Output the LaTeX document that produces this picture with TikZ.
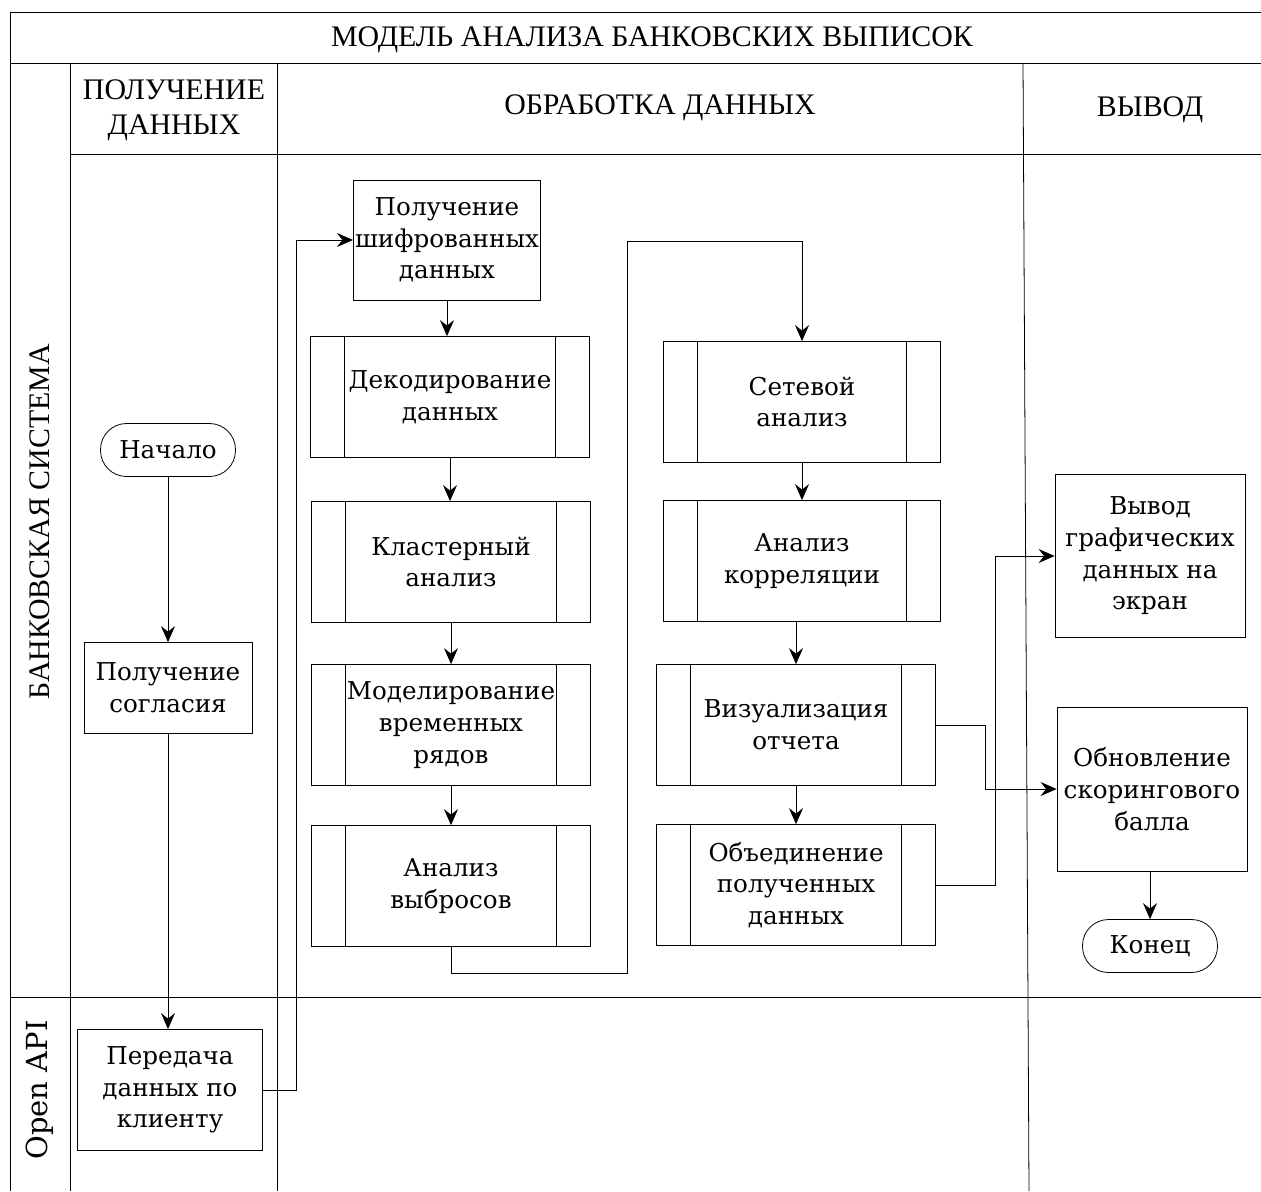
\documentclass[tikz,border=0pt]{standalone}
\usepackage{fontspec}
\setmainfont{DejaVu Serif}
\newfontfamily\headfont{Liberation Serif}
\usetikzlibrary{arrows.meta, positioning, calc}
\tikzset{
  lane/.style={align=center, inner sep=0pt, font=\headfont\fontsize{17}{20}\selectfont},
  pbox/.style={draw, align=center, inner sep=1pt, minimum width=3.72cm,
    minimum height=2.4cm, font=\fontsize{14}{18}\selectfont},
  sbox/.style={pbox, minimum width=5.58cm, minimum height=2.42cm,
    path picture={
      \draw ([xshift=0.68cm]path picture bounding box.north west) -- ([xshift=0.68cm]path picture bounding box.south west);
      \draw ([xshift=-0.68cm]path picture bounding box.north east) -- ([xshift=-0.68cm]path picture bounding box.south east);
    }},
  tbox/.style={draw, rounded corners=0.52cm, minimum width=2.7cm,
    minimum height=1.06cm, font=\fontsize{14}{18}\selectfont},
  flow/.style={-{Stealth[length=3.2mm, width=2.8mm, inset=1.1mm]}},
}
\begin{document}
\begin{tikzpicture}[x=0.02cm, y=-0.02cm, line width=0.45pt]
  \useasboundingbox (0,0) rectangle (1261,1191);
  % lanes
  \draw (10,1191) -- (10,12) -- (1261,12);
  \draw (10,63) -- (1261,63);
  \draw (70,63) -- (70,1191);
  \draw (10,997) -- (1261,997);
  \draw (70,154) -- (1261,154);
  \draw (277,63) -- (277,1191);
  \draw (1023,63) -- (1029,1191);
  \node[lane] (title) at (652,40) {МОДЕЛЬ АНАЛИЗА БАНКОВСКИХ ВЫПИСОК};
  \node[lane] (hget) at (174,110) {ПОЛУЧЕНИЕ\\ДАННЫХ};
  \node[lane] (hproc) at (660,108) {ОБРАБОТКА ДАННЫХ};
  \node[lane] (hout) at (1150,110) {ВЫВОД};
  \node[lane, rotate=90] (bank) at (40,522) {БАНКОВСКАЯ СИСТЕМА};
  \node[lane, rotate=90, font=\fontsize{16.5}{20}\selectfont] (api) at (40,1090) {Open API};

  % nodes
  \node[tbox] (start) at (168,450) {Начало};
  \node[pbox, minimum width=3.36cm, minimum height=1.82cm] (consent) at (168,688) {Получение\\согласия};
  \node[pbox, minimum width=3.7cm, minimum height=2.42cm] (transfer) at (170,1090) {Передача\\данных по\\клиенту};
  \node[pbox] (enc) at (447,240) {Получение\\шифрованных\\данных};
  \node[sbox] (decode) at (450,397) {Декодирование\\данных};
  \node[sbox] (cluster) at (451,562) {Кластерный\\анализ};
  \node[sbox] (model) at (451,725) {Моделирование\\временных\\рядов};
  \node[sbox] (outlier) at (451,886) {Анализ\\выбросов};
  \node[sbox, minimum width=5.54cm] (network) at (802,402) {Сетевой\\анализ};
  \node[sbox, minimum width=5.54cm] (corr) at (802,561) {Анализ\\корреляции};
  \node[sbox] (visual) at (796,725) {Визуализация\\отчета};
  \node[sbox] (merge) at (796,885) {Объединение\\полученных\\данных};
  \node[pbox, minimum width=3.8cm, minimum height=3.26cm] (screen) at (1150,556) {Вывод\\графических\\данных на\\экран};
  \node[pbox, minimum width=3.8cm, minimum height=3.28cm] (update) at (1152,789) {Обновление\\скорингового\\балла};
  \node[tbox] (finish) at (1150,946) {Конец};

  \coordinate (jump) at (627,241);

  % connectors
  \draw[flow] (start) -- (consent);
  \draw[flow] (consent.south) -- (consent.south |- transfer.north);
  \draw[flow] (transfer.east) -- ++(34,0) |- (enc.west);
  \draw[flow] (enc.south) -- (enc.south |- decode.north);
  \draw[flow] (decode.south) -- (decode.south |- cluster.north);
  \draw[flow] (cluster.south) -- (cluster.south |- model.north);
  \draw[flow] (model.south) -- (model.south |- outlier.north);
  \draw[flow] (outlier.south) -- ++(0,26) -| (jump) -| (network.north);
  \draw[flow] (network.south) -- (network.south |- corr.north);
  \draw[flow] (corr.south -| visual.north) -- (visual.north);
  \draw[flow] (visual.south) -- (merge.north);
  \draw[flow] (visual.east) -- ++(50,0) |- (update.west);
  \draw[flow] (merge.east) -- ++(60,0) |- (screen.west);
  \draw[flow] (update.south -| finish.north) -- (finish.north);
\end{tikzpicture}
\end{document}
